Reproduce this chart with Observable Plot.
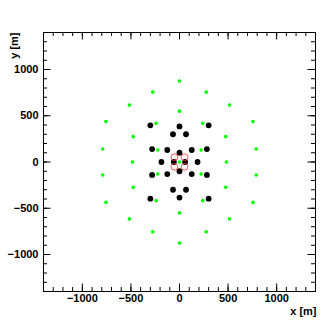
<!DOCTYPE html>
<html><head><meta charset="utf-8">
<script src="https://cdn.jsdelivr.net/npm/d3@7"></script>
<script src="https://cdn.jsdelivr.net/npm/@observablehq/plot@0.6"></script>
<style>body{margin:0;background:#fff;} svg text{font-weight:bold;}</style>
</head><body><div id="chart"></div>
<script>
// green (small) detector positions [m]
const greenX = [0, 0, -275, 275, -275, 275, -515, 515, -515, 515, -757, 757, -757, 757, -790, 790, -790, 790,
  0, 0, -476, 476, -476, 476, -483, 483, -240, 240, -240, 240, -223, 223, -223, 223, 0];
const greenY = [875, -875, 755, 755, -755, -755, 615, 615, -615, -615, 437, 437, -437, -437, 140, 140, -140, -140,
  550, -550, 274, 274, -274, -274, 0, 0, 418, 418, -418, -418, 130, 130, -130, -130, 0];
// black (large) detector positions [m]
const blackX = [-300, 300, -300, 300, 0, 0, -67, 67, -67, 67, -282, 282, -282, 282, -126, 126, -126, 126, 0, 0, -186, 186, -58, 58];
const blackY = [396, 396, -396, -396, 385, -385, 300, 300, -300, -300, 140, 140, -140, -140, 130, 130, -130, -130, 100, -100, 0, 0, 0, 0];
// red open markers [m]
const redX = [-52, 52, -52, 52];
const redY = [52, 52, -52, -52];
// axis ticks
const majorTicks = [-1000, -500, 0, 500, 1000];
const minorTicks = [-1400, -1300, -1200, -1100, -1000, -900, -800, -700, -600, -500, -400, -300, -200, -100,
  0, 100, 200, 300, 400, 500, 600, 700, 800, 900, 1000, 1100, 1200, 1300, 1400];
const xTitle = "x [m]";
const yTitle = "y [m]";

const W = 332, H = 323, mL = 43, mR = 17, mT = 32, mB = 32;
const iW = W - mL - mR, iH = H - mT - mB;
const majLen = 7.5, minLen = 4;

const green = greenX.map((x, i) => ({x, y: greenY[i]}));
const black = blackX.map((x, i) => ({x, y: blackY[i]}));
const red = redX.map((x, i) => ({x, y: redY[i]}));

const font = {fontSize: 11, fontWeight: "bold"};
const fmt = d => (d < 0 ? "\u2212" + Math.abs(d) : String(d));

const chart = Plot.plot({
  width: W, height: H,
  marginLeft: mL, marginRight: mR, marginTop: mT, marginBottom: mB,
  style: {fontFamily: "'Liberation Sans', Arial, sans-serif", fontWeight: "bold", fontSize: "11px", background: "#fff", color: "#000"},
  x: {domain: [-1400, 1400]},
  y: {domain: [-1400, 1400]},
  marks: [
    // inward ticks on all four sides
    Plot.ruleX(minorTicks, {x: d => d, insetTop: iH - minLen, stroke: "#000"}),
    Plot.ruleX(minorTicks, {x: d => d, insetBottom: iH - minLen, stroke: "#000"}),
    Plot.ruleX(majorTicks, {x: d => d, insetTop: iH - majLen, stroke: "#000"}),
    Plot.ruleX(majorTicks, {x: d => d, insetBottom: iH - majLen, stroke: "#000"}),
    Plot.ruleY(minorTicks, {y: d => d, insetRight: iW - minLen, stroke: "#000"}),
    Plot.ruleY(minorTicks, {y: d => d, insetLeft: iW - minLen, stroke: "#000"}),
    Plot.ruleY(majorTicks, {y: d => d, insetRight: iW - majLen, stroke: "#000"}),
    Plot.ruleY(majorTicks, {y: d => d, insetLeft: iW - majLen, stroke: "#000"}),
    Plot.axisX(majorTicks, {tickSize: 0, tickPadding: 3, label: null, tickFormat: fmt, ...font}),
    Plot.axisY(majorTicks, {tickSize: 0, tickPadding: 5, label: null, tickFormat: fmt, ...font}),
    Plot.frame({stroke: "#000"}),
    Plot.dot(black, {x: "x", y: "y", r: 2.9, fill: "#000"}),
    Plot.dot(green, {x: "x", y: "y", r: 1.8, fill: "#00ff00"}),
    Plot.dot(red, {x: "x", y: "y", r: 3.4, fill: "none", stroke: "#ff3030", strokeWidth: 0.8}),
    Plot.text([xTitle], {frameAnchor: "bottom-right", dy: 23, dx: 1, textAnchor: "end", ...font}),
    Plot.text([yTitle], {frameAnchor: "top-left", rotate: -90, textAnchor: "end", dx: -33, ...font})
  ]
});
document.getElementById("chart").appendChild(chart);
</script>
</body></html>
